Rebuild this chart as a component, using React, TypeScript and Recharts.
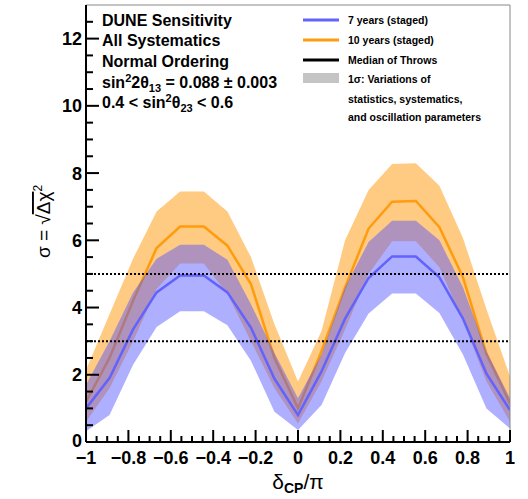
import React from 'react';
import { ComposedChart, Area, Line, XAxis, YAxis, ReferenceLine } from 'recharts';

// delta_CP / pi, 20-degree steps
const deltaCP = [-1, -0.889, -0.778, -0.667, -0.556, -0.444, -0.333, -0.222, -0.111, 0, 0.111, 0.222, 0.333, 0.444, 0.556, 0.667, 0.778, 0.889, 1];

// 7 years (staged)
const sigma7 = [1.0, 1.9, 3.35, 4.45, 4.95, 4.95, 4.45, 3.4, 1.88, 0.8, 2.1, 3.67, 4.88, 5.52, 5.52, 4.9, 3.67, 2.03, 0.95];
const sigma7Low = [0.32, 0.8, 2.3, 3.42, 3.89, 3.89, 3.47, 2.42, 0.9, 0.36, 1.1, 2.65, 3.82, 4.42, 4.42, 3.84, 2.6, 1.0, 0.4];
const sigma7High = [1.7, 3.0, 4.45, 5.45, 5.87, 5.87, 5.42, 4.1, 2.65, 1.3, 2.6, 4.6, 5.95, 6.58, 6.58, 6.0, 4.6, 2.7, 1.3];

// 10 years (staged)
const sigma10 = [1.2, 2.5, 4.2, 5.77, 6.41, 6.41, 5.84, 4.7, 2.5, 1.0, 2.7, 4.6, 6.35, 7.15, 7.17, 6.39, 4.9, 2.62, 1.15];
const sigma10Low = [0.6, 1.6, 3.0, 4.55, 5.31, 5.31, 4.4, 3.0, 1.6, 0.55, 1.8, 3.35, 5.0, 5.97, 5.97, 5.2, 3.6, 1.8, 0.6];
const sigma10High = [2.14, 3.8, 5.45, 6.86, 7.45, 7.45, 6.86, 5.5, 3.5, 1.8, 3.3, 6.0, 7.5, 8.27, 8.29, 7.62, 6.07, 3.95, 1.95];

const xMajorTicks = [-1, -0.8, -0.6, -0.4, -0.2, 0, 0.2, 0.4, 0.6, 0.8, 1];
const xTickLabels = ['\u22121', '\u22120.8', '\u22120.6', '\u22120.4', '\u22120.2', '0', '0.2', '0.4', '0.6', '0.8', '1'];
const yMajorTicks = [0, 2, 4, 6, 8, 10, 12];
const yTickLabels = ['0', '2', '4', '6', '8', '10', '12'];
const thresholds = [3, 5];

const xAllTicks: number[] = [];
for (let i = 0; i <= 40; i++) xAllTicks.push(Math.round((-1 + i * 0.05) * 1000) / 1000);
const yAllTicks: number[] = [];
for (let i = 0; i <= 25; i++) yAllTicks.push(i * 0.5);

const data = deltaCP.map((d, i) => ({
  d,
  s7: sigma7[i],
  s10: sigma10[i],
  band7: [sigma7Low[i], sigma7High[i]],
  band10: [sigma10Low[i], sigma10High[i]],
}));

const FONT = '"Liberation Sans", Arial, Helvetica, sans-serif';

const BLUE = '#6262ff';
const ORANGE = '#ff9c0d';

const YTick = (props: any) => {
  const { x, y, payload } = props;
  const v = payload.value;
  const idx = yMajorTicks.findIndex((m) => Math.abs(m - v) < 1e-6);
  const major = idx >= 0;
  return (
    <g>
      <line x1={x} x2={x + (major ? 13 : 7)} y1={y} y2={y} stroke="#000" strokeWidth={2} />
      {major && (
        <text x={x - 4} y={y} dy={v === 0 ? 4.5 : 6.5} textAnchor="end" fontSize={18} fontWeight="bold" fontFamily={FONT} fill="#000">
          {yTickLabels[idx]}
        </text>
      )}
    </g>
  );
};

const XTick = (props: any) => {
  const { x, y, payload } = props;
  const v = payload.value;
  const idx = xMajorTicks.findIndex((m) => Math.abs(m - v) < 1e-6);
  const major = idx >= 0;
  return (
    <g>
      <line x1={x} x2={x} y1={y} y2={y - (major ? 12 : 6)} stroke="#000" strokeWidth={2} />
      {major && (
        <text x={x} y={y + 22} textAnchor="middle" fontSize={18} fontWeight="bold" fontFamily={FONT} fill="#000">
          {xTickLabels[idx]}
        </text>
      )}
    </g>
  );
};

const XTitle = (props: any) => {
  const vb = props.viewBox || {};
  const cx = vb.x + vb.width / 2;
  return (
    <text x={cx} y={489} textAnchor="middle" fontFamily={FONT} fontSize={21} fill="#000">
      δ<tspan fontSize={14} fontWeight="bold" dy={4}>CP</tspan>
      <tspan dy={-4}>/π</tspan>
    </text>
  );
};

const YTitle = (props: any) => {
  const vb = props.viewBox || {};
  const cy = vb.y + vb.height / 2 - 2;
  return (
    <text
      x={0}
      y={0}
      transform={`translate(50, ${cy}) rotate(-90)`}
      textAnchor="middle"
      fontFamily={FONT}
      fontSize={19}
      fill="#000"
    >
      σ = √<tspan style={{ textDecoration: 'overline' }}>Δχ</tspan>
      <tspan fontSize={12} dy={-8}>2</tspan>
    </text>
  );
};

const Annotations = () => (
  <svg width={528} height={499} style={{ position: 'absolute', left: 0, top: 0, pointerEvents: 'none' }}>
    <g fontFamily={FONT} fontWeight="bold" fontSize={16} fill="#000">
      <text x={102} y={26}>DUNE Sensitivity</text>
      <text x={102} y={46}>All Systematics</text>
      <text x={102} y={67}>Normal Ordering</text>
      <text x={102} y={88}>
        sin<tspan fontSize={11} dy={-6}>2</tspan>
        <tspan dy={6}>2θ</tspan>
        <tspan fontSize={11} dy={4}>13</tspan>
        <tspan dy={-4}> = 0.088 ± 0.003</tspan>
      </text>
      <text x={102} y={108}>
        0.4 &lt; sin<tspan fontSize={11} dy={-6}>2</tspan>
        <tspan dy={6}>θ</tspan>
        <tspan fontSize={11} dy={4}>23</tspan>
        <tspan dy={-4}> &lt; 0.6</tspan>
      </text>
    </g>
    <g fontFamily={FONT} fontWeight="bold" fontSize={10.5} fill="#000">
      <line x1={303} x2={339} y1={20} y2={20} stroke={BLUE} strokeWidth={3} />
      <text x={348} y={24}>7 years (staged)</text>
      <line x1={303} x2={339} y1={40} y2={40} stroke={ORANGE} strokeWidth={3} />
      <text x={348} y={44}>10 years (staged)</text>
      <line x1={303} x2={339} y1={60} y2={60} stroke="#000" strokeWidth={3} />
      <text x={348} y={64}>Median of Throws</text>
      <rect x={303} y={73} width={36} height={10} fill="#c4c4c4" />
      <text x={348} y={83}>1σ: Variations of</text>
      <text x={348} y={103}>statistics, systematics,</text>
      <text x={348} y={121}>and oscillation parameters</text>
    </g>
  </svg>
);

export default function App() {
  return (
    <div style={{ position: 'absolute', left: 0, top: 0, width: 528, height: 499, background: '#fff' }}>
      <ComposedChart width={528} height={499} data={data} margin={{ top: 5, right: 18, left: 0, bottom: 0 }}>
        <XAxis
          dataKey="d"
          type="number"
          domain={[-1, 1]}
          ticks={xAllTicks}
          interval={0}
          tick={<XTick />}
          tickLine={false}
          tickSize={0}
          tickMargin={0}
          height={57}
          axisLine={{ stroke: '#000', strokeWidth: 2 }}
          allowDataOverflow
          label={<XTitle />}
        />
        <YAxis
          type="number"
          domain={[0, 13]}
          ticks={yAllTicks}
          interval={0}
          tick={<YTick />}
          tickLine={false}
          tickSize={0}
          tickMargin={0}
          width={86}
          axisLine={{ stroke: '#000', strokeWidth: 2 }}
          allowDataOverflow
          label={<YTitle />}
        />
        <Area
          dataKey="band10"
          type="linear"
          stroke="none"
          fill="#ff9f1c"
          fillOpacity={0.55}
          isAnimationActive={false}
          activeDot={false}
        />
        <Area
          dataKey="s10"
          type="linear"
          stroke={ORANGE}
          strokeWidth={2.5}
          fill="none"
          fillOpacity={0}
          isAnimationActive={false}
          activeDot={false}
        />
        <Area
          dataKey="band7"
          type="linear"
          stroke="none"
          fill="#5555ff"
          fillOpacity={0.47}
          isAnimationActive={false}
          activeDot={false}
        />
        <Line dataKey="s7" type="linear" stroke={BLUE} strokeWidth={2.5} dot={false} isAnimationActive={false} />
        {thresholds.map((t) => (
          <ReferenceLine key={t} y={t} stroke="#000" strokeWidth={2} strokeDasharray="2 2" />
        ))}
        <ReferenceLine y={13} stroke="#888" strokeWidth={1} />
        <ReferenceLine x={1} stroke="#888" strokeWidth={1} />
      </ComposedChart>
      <Annotations />
    </div>
  );
}
